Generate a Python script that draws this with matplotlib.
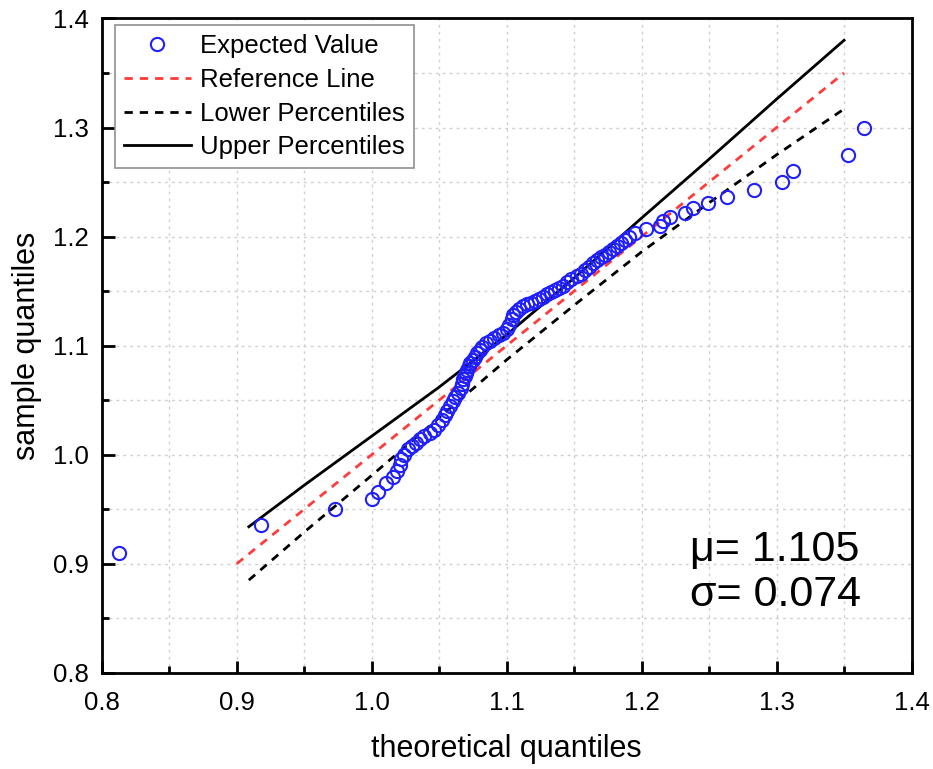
import matplotlib.pyplot as plt
from matplotlib.ticker import MultipleLocator

plt.rcParams['font.family'] = ['Liberation Sans', 'DejaVu Sans']

# expected values (theoretical, sample)
theoretical = [0.813, 0.918, 0.973, 1.000, 1.005, 1.011, 1.016, 1.019, 1.021, 1.022,
               1.024, 1.027, 1.030, 1.033, 1.036, 1.039, 1.043, 1.046, 1.049, 1.052,
               1.054, 1.056, 1.058, 1.060, 1.062, 1.064, 1.066, 1.067, 1.068, 1.069,
               1.070, 1.071, 1.072, 1.073, 1.075, 1.0765, 1.078, 1.080, 1.082, 1.085,
               1.088, 1.091, 1.094, 1.097, 1.100, 1.102, 1.104, 1.105, 1.107, 1.109,
               1.112, 1.115, 1.118, 1.121, 1.124, 1.127, 1.130, 1.133, 1.136, 1.139,
               1.142, 1.145, 1.148, 1.152, 1.155, 1.158, 1.161, 1.164, 1.167, 1.170,
               1.173, 1.176, 1.179, 1.182, 1.185, 1.188, 1.191, 1.195, 1.2035, 1.2135,
               1.216, 1.221, 1.232, 1.238, 1.249, 1.263, 1.283, 1.304, 1.312, 1.353, 1.365]
sample = [0.910, 0.936, 0.950, 0.959, 0.966, 0.974, 0.980, 0.985, 0.991, 0.996,
          1.000, 1.005, 1.008, 1.011, 1.014, 1.017, 1.020, 1.023, 1.027, 1.032,
          1.036, 1.040, 1.045, 1.049, 1.053, 1.057, 1.061, 1.065, 1.069, 1.072,
          1.075, 1.078, 1.081, 1.084, 1.087, 1.090, 1.093, 1.096, 1.099, 1.102,
          1.104, 1.107, 1.110, 1.112, 1.115, 1.119, 1.124, 1.128, 1.131, 1.134,
          1.136, 1.138, 1.139, 1.141, 1.143, 1.145, 1.147, 1.149, 1.151, 1.153,
          1.155, 1.158, 1.161, 1.164, 1.166, 1.169, 1.172, 1.176, 1.179, 1.181,
          1.183, 1.186, 1.189, 1.191, 1.194, 1.197, 1.200, 1.203, 1.207, 1.210,
          1.214, 1.218, 1.2215, 1.226, 1.231, 1.236, 1.243, 1.250, 1.260, 1.275, 1.300]

ref_x = [0.9, 1.35]
ref_y = [0.9, 1.35]

band_x = [0.909, 0.95, 1.0, 1.05, 1.1, 1.15, 1.2, 1.25, 1.3, 1.35]
upper = [0.934, 0.972, 1.017, 1.062, 1.110, 1.162, 1.217, 1.271, 1.326, 1.380]
lower = [0.885, 0.929, 0.981, 1.034, 1.087, 1.137, 1.186, 1.231, 1.275, 1.317]

mu = 1.105
sigma = 0.074

fig = plt.figure(figsize=(9.33, 7.69), dpi=100)
ax = fig.add_axes([0.109, 0.125, 0.868, 0.851])

ax.plot(theoretical, sample, 'o', mfc='none', mec='#2020ff', ms=9.5, mew=1.5,
        label='Expected Value', zorder=3)
ax.plot(ref_x, ref_y, '--', color='#ff3b3b', lw=2, dashes=(3, 2.5), label='Reference Line')
ax.plot(band_x, lower, '--', color='black', lw=2, dashes=(3, 2.5), label='Lower Percentiles')
ax.plot(band_x, upper, '-', color='black', lw=2, label='Upper Percentiles')

ax.set_xlim(0.8, 1.4)
ax.set_ylim(0.8, 1.4)
ax.xaxis.set_major_locator(MultipleLocator(0.1))
ax.yaxis.set_major_locator(MultipleLocator(0.1))
ax.xaxis.set_minor_locator(MultipleLocator(0.05))
ax.yaxis.set_minor_locator(MultipleLocator(0.05))
ax.grid(True, which='both', color='#d0d0d0', lw=1, linestyle=(0, (2, 3)))
ax.set_axisbelow(True)

ax.tick_params(which='major', direction='in', length=9, width=2, labelsize=18.5)
ax.tick_params(axis='x', which='major', pad=13)
ax.tick_params(axis='y', which='major', pad=9)
ax.tick_params(which='minor', direction='in', length=5, width=2)
for s in ax.spines.values():
    s.set_linewidth(2)

ax.set_xlabel('theoretical quantiles', fontsize=22, labelpad=14)
ax.set_ylabel('sample quantiles', fontsize=22, labelpad=8)

ax.text(0.726, 0.153, 'μ= {:.3f}\nσ= {:.3f}'.format(mu, sigma), transform=ax.transAxes,
        fontsize=31, linespacing=1.16, va='center', ha='left')

leg = ax.legend(loc='upper left', bbox_to_anchor=(0.0164, 0.99), borderaxespad=0,
                fontsize=18.5, fancybox=False, edgecolor='#909090', framealpha=1,
                handlelength=2.6, borderpad=0.35, labelspacing=0.38, handletextpad=0.35)
leg.get_frame().set_linewidth(1.2)

fig.savefig('out.png', dpi=100)
